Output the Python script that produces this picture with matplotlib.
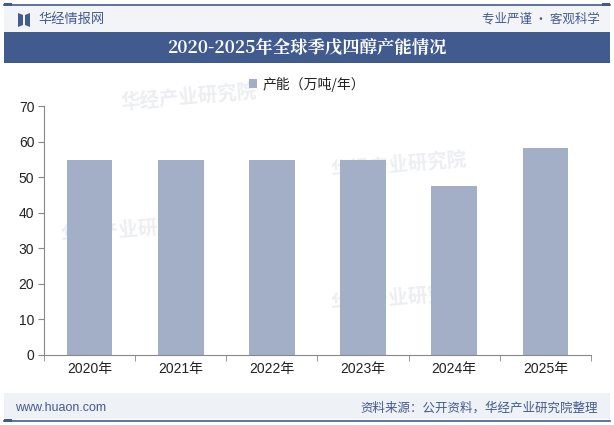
import matplotlib
matplotlib.use("Agg")
import matplotlib.pyplot as plt
from matplotlib.patches import Rectangle, Polygon
import numpy as np

plt.rcParams['font.family'] = ['Liberation Sans', 'Noto Sans CJK SC', 'DejaVu Sans']

categories = ['2020年', '2021年', '2022年', '2023年', '2024年', '2025年']
capacity = [54.8, 54.8, 54.8, 54.8, 47.5, 58.2]
legend_label = '产能（万吨/年）'
title = '2020-2025年全球季戊四醇产能情况'
yticks = [0, 10, 20, 30, 40, 50, 60, 70]

BAR = '#A3AFC6'
DARK = '#425B8E'
W, H = 614, 425

fig = plt.figure(figsize=(W / 100, H / 100), dpi=100)
fig.patch.set_facecolor('white')

def px(x, y):
    return x / W, 1 - y / H

# header band
fig.add_artist(Rectangle(px(4, 32), 606 / W, 27 / H, transform=fig.transFigure,
                         facecolor='#F3F4F8', edgecolor='none', zorder=-2))
# top line
fig.add_artist(plt.Line2D([4 / W, 610 / W], [1 - 4.5 / H] * 2, transform=fig.transFigure,
                          color=DARK, lw=1.2))
fig.add_artist(Rectangle(px(4, 6), 8 / W, 3 / H, transform=fig.transFigure,
                         facecolor=DARK, edgecolor='none'))
fig.add_artist(Rectangle(px(602, 6), 8 / W, 3 / H, transform=fig.transFigure,
                         facecolor=DARK, edgecolor='none'))
# logo icon
logo = Polygon([px(18, 13), px(23, 15), px(23, 25), px(18, 27)], closed=True,
               transform=fig.transFigure, facecolor=DARK, edgecolor='none')
logo2 = Polygon([px(30, 13), px(25, 15), px(25, 25), px(30, 27)], closed=True,
                transform=fig.transFigure, facecolor=DARK, edgecolor='none')
fig.add_artist(logo)
fig.add_artist(logo2)
fig.text(38 / W, 1 - 19.5 / H, '华经情报网', fontsize=9.5, color=DARK,
         family=['Noto Sans CJK SC'], va='center', ha='left')
fig.text(600 / W, 1 - 19.5 / H, '专业严谨 • 客观科学', fontsize=9, color=DARK,
         family=['Noto Sans CJK SC', 'DejaVu Sans'], va='center', ha='right')

# title bar
fig.add_artist(Rectangle(px(4, 63), 606 / W, 31 / H, transform=fig.transFigure,
                         facecolor=DARK, edgecolor='none'))
fig.text(0.5, 1 - 48 / H, title, fontsize=12.5, color='white', fontweight='bold',
         family=['Noto Serif CJK SC', 'Noto Sans CJK SC'], va='center', ha='center')

# faint watermarks (behind the plot)
for (x, y) in [(120, 97), (330, 165), (60, 230), (330, 298)]:
    fig.text(x / W, 1 - y / H, '华经产业研究院', fontsize=14, color='#EDEEF1',
             family=['Noto Sans CJK SC'], fontweight='bold', rotation=5,
             va='center', ha='left', zorder=-1)

# footer
fig.add_artist(Rectangle(px(4, 419), 606 / W, 26 / H, transform=fig.transFigure,
                         facecolor='#EEF1F6', edgecolor='none', zorder=-2))
fig.add_artist(plt.Line2D([4 / W, 610 / W], [1 - 420.5 / H] * 2, transform=fig.transFigure,
                          color=DARK, lw=1.2))
fig.add_artist(Rectangle(px(4, 422), 8 / W, 3 / H, transform=fig.transFigure,
                         facecolor=DARK, edgecolor='none'))
fig.text(15 / W, 1 - 408 / H, 'www.huaon.com', fontsize=9, color=DARK,
         va='center', ha='left')
fig.text(598 / W, 1 - 408 / H, '资料来源：公开资料，华经产业研究院整理', fontsize=9, color=DARK,
         family=['Noto Sans CJK SC'], va='center', ha='right')

# axes
ax = fig.add_axes([44 / W, 1 - 355 / H, (591 - 44) / W, (355 - 106) / H])
ax.set_zorder(1)
ax.patch.set_alpha(0)
x = np.arange(len(categories))
ax.bar(x, capacity, width=0.5, color=BAR, label=legend_label, zorder=2)
ax.set_xlim(-0.5, len(categories) - 0.5)
ax.set_ylim(0, 70)
ax.set_yticks(yticks)
ax.set_yticklabels([str(v) for v in yticks], fontsize=10, color='#222222')
ax.set_xticks(x)
ax.set_xticklabels(categories, fontsize=10, color='#222222',
                   family=['Liberation Sans', 'Noto Sans CJK SC'])
ax.set_xticks(np.arange(-0.5, len(categories)), minor=True)
ax.tick_params(axis='x', which='major', length=0, pad=5)
ax.tick_params(axis='x', which='minor', length=4, color='#888888')
ax.tick_params(axis='y', length=4, color='#888888', pad=3)
for s in ['top', 'right']:
    ax.spines[s].set_visible(False)
for s in ['left', 'bottom']:
    ax.spines[s].set_color('#888888')
    ax.spines[s].set_linewidth(0.8)

leg = fig.legend(loc='center', bbox_to_anchor=(0.5, 1 - 84 / H), frameon=False,
                 handlelength=0.6, handleheight=0.6, handletextpad=0.4,
                 prop={'family': ['Noto Sans CJK SC'], 'size': 10})
for t in leg.get_texts():
    t.set_color('#222222')

fig.savefig('out.png', dpi=100)
